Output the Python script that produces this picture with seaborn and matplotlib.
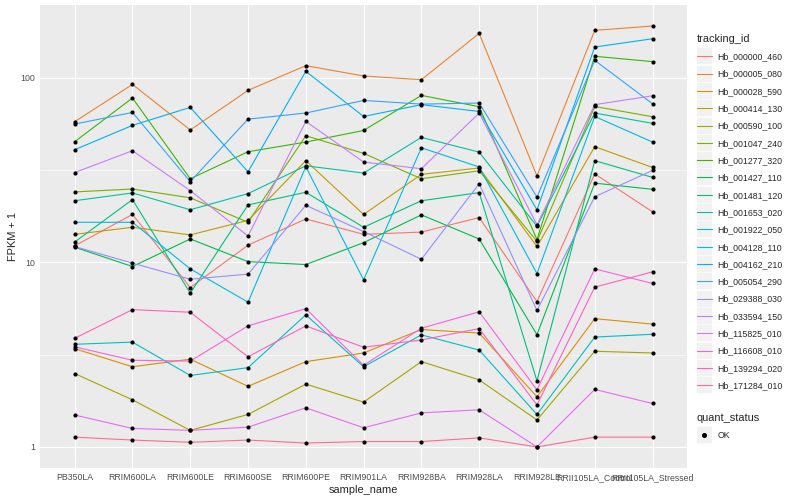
import matplotlib
matplotlib.use("Agg")
import matplotlib.pyplot as plt
from matplotlib.lines import Line2D
from matplotlib.legend_handler import HandlerTuple
from matplotlib.ticker import FixedLocator, NullFormatter
import numpy as np
import pandas as pd
import seaborn as sns

samples = ["PB350LA", "RRIM600LA", "RRIM600LE", "RRIM600SE", "RRIM600PE", "RRIM901LA",
           "RRIM928BA", "RRIM928LA", "RRIM928LE", "RRII105LA_Control", "RRII105LA_Stressed"]

hb_000000_460 = [12.3, 18.2, 7.31, 12.4, 17.2, 14.2, 14.6, 17.5, 6.14, 30.2, 18.8]
hb_000005_080 = [57.9, 92.2, 52.2, 85.6, 116.5, 102.4, 97.8, 174.3, 29.4, 181, 191]
hb_000028_590 = [3.41, 2.72, 2.99, 2.13, 2.9, 3.23, 4.33, 4.14, 1.87, 4.96, 4.63]
hb_000414_130 = [14.2, 15.5, 14.1, 16.9, 35.6, 18.2, 30.0, 32.5, 12.2, 42.4, 32.7]
hb_000590_100 = [2.5, 1.8, 1.23, 1.5, 2.19, 1.75, 2.9, 2.31, 1.4, 3.3, 3.23]
hb_001047_240 = [24.1, 25.0, 22.4, 16.5, 48.6, 39.0, 28.4, 31.4, 13.0, 70.0, 61.6]
hb_001277_320 = [45.1, 77.8, 28.4, 39.8, 44.9, 51.9, 80.4, 69.8, 13.3, 131, 122.5]
hb_001427_110 = [12.1, 9.5, 13.4, 10.1, 9.74, 12.8, 18.1, 13.4, 4.06, 26.9, 24.9]
hb_001481_120 = [12.9, 21.9, 6.81, 20.5, 24.0, 15.5, 21.6, 23.9, 2.28, 35.6, 28.9]
hb_001653_020 = [21.6, 23.8, 19.3, 23.6, 33.4, 30.5, 47.6, 39.6, 15.7, 64.5, 56.7]
hb_001922_050 = [3.6, 3.7, 2.44, 2.69, 5.2, 2.72, 4.05, 3.35, 1.5, 3.94, 4.08]
hb_004128_110 = [16.5, 16.5, 9.23, 6.09, 33.0, 8.05, 41.8, 32.9, 8.7, 61.8, 44.9]
hb_004162_210 = [40.8, 55.3, 69.2, 31.0, 108.5, 61.8, 71.6, 65.8, 19.3, 147, 163]
hb_005054_290 = [56.2, 65.0, 27.4, 59.8, 64.5, 75.5, 72.1, 73.1, 22.6, 124.5, 72.4]
hb_029388_030 = [12.2, 9.91, 8.11, 8.64, 20.4, 14.7, 10.4, 26.7, 5.49, 22.7, 31.5]
hb_033594_150 = [30.7, 40.3, 24.5, 13.9, 58.1, 35.0, 32.2, 64.5, 16.0, 71.6, 80.0]
hb_115825_010 = [1.49, 1.26, 1.23, 1.28, 1.63, 1.27, 1.53, 1.59, 1.0, 2.05, 1.72]
hb_116608_010 = [3.49, 2.95, 2.92, 4.53, 5.62, 2.77, 4.40, 5.40, 2.04, 9.23, 7.69]
hb_139294_020 = [3.88, 5.55, 5.37, 3.08, 4.53, 3.47, 3.80, 4.38, 1.69, 7.35, 8.89]
hb_171284_010 = [1.13, 1.09, 1.06, 1.09, 1.05, 1.07, 1.07, 1.12, 1.0, 1.13, 1.13]

series = {
    "Hb_000000_460": hb_000000_460, "Hb_000005_080": hb_000005_080,
    "Hb_000028_590": hb_000028_590, "Hb_000414_130": hb_000414_130,
    "Hb_000590_100": hb_000590_100, "Hb_001047_240": hb_001047_240,
    "Hb_001277_320": hb_001277_320, "Hb_001427_110": hb_001427_110,
    "Hb_001481_120": hb_001481_120, "Hb_001653_020": hb_001653_020,
    "Hb_001922_050": hb_001922_050, "Hb_004128_110": hb_004128_110,
    "Hb_004162_210": hb_004162_210, "Hb_005054_290": hb_005054_290,
    "Hb_029388_030": hb_029388_030, "Hb_033594_150": hb_033594_150,
    "Hb_115825_010": hb_115825_010, "Hb_116608_010": hb_116608_010,
    "Hb_139294_020": hb_139294_020, "Hb_171284_010": hb_171284_010,
}
ids = list(series.keys())

# ggplot2 default hue palette for 20 levels
colors = ["#F8766D", "#EA8331", "#D89000", "#C09B00", "#A3A500", "#7CAE00", "#39B600",
          "#00BB4E", "#00BF7D", "#00C1A3", "#00BFC4", "#00BAE0", "#00B0F6", "#35A2FF",
          "#9590FF", "#C77CFF", "#E76BF3", "#FA62DB", "#FF62BC", "#FF6C91"]

df = pd.DataFrame([
    {"tracking_id": tid, "sample_name": s, "fpkm": v}
    for tid, vals in series.items() for s, v in zip(samples, vals)
])

sns.set_theme(style="darkgrid", rc={"axes.facecolor": "#EBEBEB", "grid.color": "white"})
plt.rcParams["font.family"] = ["Liberation Sans", "DejaVu Sans"]

fig, ax = plt.subplots(figsize=(8, 5), dpi=100)
fig.subplots_adjust(left=0.05, right=0.859, top=0.99, bottom=0.064)

sns.lineplot(data=df, x="sample_name", y="fpkm", hue="tracking_id", hue_order=ids,
             palette=colors, linewidth=0.8, legend=False, sort=False, estimator=None, ax=ax)
sns.scatterplot(data=df, x="sample_name", y="fpkm", color="black", s=9, linewidth=0,
                legend=False, ax=ax, zorder=3)

ax.set_yscale("log")
lo, hi = np.log10(df["fpkm"].min()), np.log10(df["fpkm"].max())
pad = 0.05 * (hi - lo)
ax.set_ylim(10 ** (lo - pad), 10 ** (hi + pad))
ax.set_xlim(-0.6, len(samples) - 0.4)
ax.set_yticks([1, 10, 100])
ax.set_yticklabels(["1", "10", "100"])
ax.yaxis.set_minor_locator(FixedLocator([10 ** 0.5, 10 ** 1.5]))
ax.yaxis.set_minor_formatter(NullFormatter())
ax.grid(which="major", color="white", linewidth=0.8)
ax.grid(which="minor", axis="y", color="white", linewidth=0.4)
ax.tick_params(which="minor", length=0)
ax.tick_params(which="major", length=2.0, width=0.8, color="#333333",
               labelsize=6.3, labelcolor="#4D4D4D", pad=1.5)
for sp in ax.spines.values():
    sp.set_visible(False)
ax.set_xlabel("sample_name", fontsize=7.9, labelpad=2)
ax.set_ylabel("FPKM + 1", fontsize=7.9, labelpad=1.5)

# legend keys: grey square drawn as a thick butt-capped line, with the series mark on top
key_bg = "#F2F2F2"


def key_box():
    return Line2D([], [], color=key_bg, linewidth=11.8, solid_capstyle="butt")


h1 = [(key_box(), Line2D([], [], color=c, linewidth=0.8)) for c in colors]
fig.legend(h1, ids, handler_map={tuple: HandlerTuple(ndivide=1, pad=0)},
           loc="upper left", bbox_to_anchor=(0.871, 0.932), title="tracking_id",
           frameon=False, fontsize=6.3, title_fontsize=7.9, handlelength=1.75,
           labelspacing=0.95, handletextpad=0.6, borderpad=0,
           borderaxespad=0, alignment="left")

h2 = [(key_box(), Line2D([], [], color="black", marker="o", markersize=2.6, linestyle="none"))]
fig.legend(h2, ["OK"], handler_map={tuple: HandlerTuple(ndivide=1, pad=0)},
           loc="upper left", bbox_to_anchor=(0.871, 0.174), title="quant_status",
           frameon=False, fontsize=6.3, title_fontsize=7.9, handlelength=1.75,
           labelspacing=0.95, handletextpad=0.6, borderpad=0, borderaxespad=0,
           alignment="left")

fig.savefig("out.png", dpi=100)
